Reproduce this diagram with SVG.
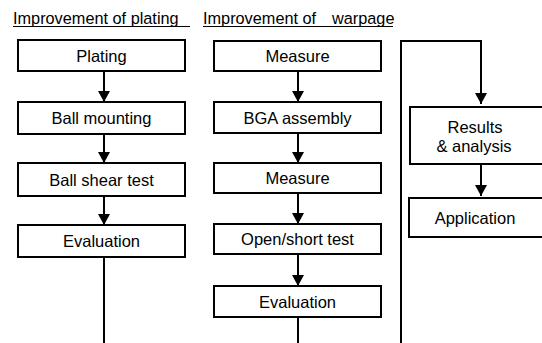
<svg xmlns="http://www.w3.org/2000/svg" width="542" height="343" viewBox="0 0 542 343">
<defs>
<marker id="ah" markerUnits="userSpaceOnUse" markerWidth="12" markerHeight="13" refX="11" refY="6" orient="auto">
<path d="M0,0 L11,6 L0,12 Z" fill="#000"/>
</marker>
<style>
.box{fill:#fff;stroke:#000;stroke-width:2}
.t{font-family:"Liberation Sans",Arial,sans-serif;font-size:16.5px;fill:#000;text-anchor:middle}
.h{font-family:"Liberation Sans",Arial,sans-serif;font-size:16.3px;fill:#000}
.c{fill:none;stroke:#000;stroke-width:2}
.a{fill:none;stroke:#000;stroke-width:2;marker-end:url(#ah)}
</style>
</defs>
<rect width="542" height="343" fill="#fff"/>
<g id="headers">
<text class="h" x="13" y="24">Improvement of plating</text>
<line x1="13" y1="26.5" x2="190" y2="26.5" stroke="#000" stroke-width="1.2"/>
<text class="h" x="203" y="24">Improvement of</text>
<text class="h" x="332" y="24">warpage</text>
<line x1="203" y1="26.5" x2="393" y2="26.5" stroke="#000" stroke-width="1.2"/>
</g>
<g id="connectors">
<line class="a" x1="104" y1="71" x2="104" y2="102"/>
<line class="a" x1="104" y1="134" x2="104" y2="163"/>
<line class="a" x1="104" y1="196" x2="104" y2="225"/>
<line class="c" x1="104" y1="257" x2="104" y2="343"/>
<line class="a" x1="298" y1="71" x2="298" y2="102"/>
<line class="a" x1="298" y1="133" x2="298" y2="163"/>
<line class="a" x1="298" y1="193" x2="298" y2="224"/>
<line class="a" x1="298" y1="254" x2="298" y2="286"/>
<line class="c" x1="298" y1="317" x2="298" y2="343"/>
<polyline class="c" points="401,343 401,41 481,41 481,60"/>
<line class="a" x1="481" y1="59" x2="481" y2="104"/>
<line class="a" x1="481" y1="164" x2="481" y2="196"/>
</g>
<g id="plating"><rect class="box" x="18" y="40" width="167" height="31"/><text class="t" x="101.5" y="62">Plating</text></g>
<g id="ball-mounting"><rect class="box" x="18" y="102" width="167" height="32"/><text class="t" x="101.5" y="124">Ball mounting</text></g>
<g id="ball-shear-test"><rect class="box" x="18" y="163" width="167" height="33"/><text class="t" x="101.5" y="185.5">Ball shear test</text></g>
<g id="evaluation-1"><rect class="box" x="18" y="225" width="167" height="32"/><text class="t" x="101.5" y="247">Evaluation</text></g>
<g id="measure-1"><rect class="box" x="214" y="41" width="167" height="30"/><text class="t" x="297.5" y="62">Measure</text></g>
<g id="bga-assembly"><rect class="box" x="214" y="102" width="167" height="31"/><text class="t" x="297.5" y="123.5">BGA assembly</text></g>
<g id="measure-2"><rect class="box" x="214" y="163" width="167" height="30"/><text class="t" x="297.5" y="184">Measure</text></g>
<g id="open-short-test"><rect class="box" x="214" y="224" width="167" height="30"/><text class="t" x="297.5" y="245">Open/short test</text></g>
<g id="evaluation-2"><rect class="box" x="214" y="286" width="167" height="31"/><text class="t" x="297.5" y="307.5">Evaluation</text></g>
<g id="results"><rect class="box" x="410" y="107" width="140" height="57"/><text class="t" x="475" y="133">Results</text><text class="t" x="474" y="152">&amp; analysis</text></g>
<g id="application"><rect class="box" x="409" y="198" width="141" height="39"/><text class="t" x="475" y="224">Application</text></g>
</svg>
